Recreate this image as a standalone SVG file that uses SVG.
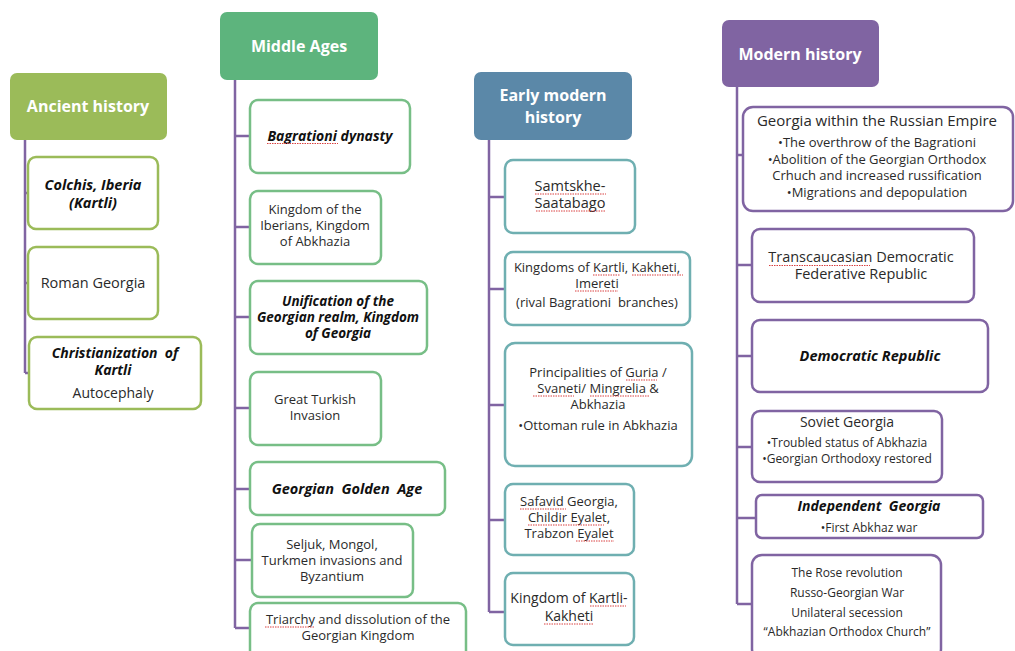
<svg xmlns="http://www.w3.org/2000/svg" width="1015" height="651" viewBox="0 0 1015 651">
<style>
.t{font-family:"Open Sans","Noto Sans","Liberation Sans",sans-serif;font-size:13px;fill:#2a2a2a;text-anchor:middle}
.s{font-size:12px}
.l{font-size:14px}
.xl{font-size:14.5px}
.bi{font-weight:bold;font-style:italic;fill:#111;font-size:14px}
.h{font-family:"Open Sans","Noto Sans","Liberation Sans",sans-serif;font-weight:bold;font-size:16px;fill:#fff;text-anchor:middle}
.g1{fill:#fff;stroke:#9BBB59;stroke-width:2.5}
.g2{fill:#fff;stroke:#77BE86;stroke-width:2.5}
.g3{fill:#fff;stroke:#6FAFB1;stroke-width:2.5}
.g4{fill:#fff;stroke:#8064A2;stroke-width:2.5}
.c{fill:none;stroke:#8064A2;stroke-width:2.5}
.u{fill:none;stroke:#d94040;stroke-width:1;stroke-dasharray:1.5 1}
</style>
<rect width="1015" height="651" fill="#fff"/>
<g id="connectors">
<path class="c" d="M25 140 V373 M25 193 H28 M25 283 H28 M25 373 H29"/>
<path class="c" d="M235 80 V628 M235 136 H250 M235 227 H250 M235 317 H250 M235 408 H250 M235 489 H250 M235 560 H252 M235 628 H250"/>
<path class="c" d="M489 140 V612 M489 197 H505 M489 289 H505 M489 405 H505 M489 520 H505 M489 612 H505"/>
<path class="c" d="M737 87 V604 M737 155 H743 M737 265 H752 M737 356 H752 M737 447 H752 M737 518 H756 M737 604 H752"/>
</g>
<g id="ancient">
<rect x="10" y="73" width="157" height="67" rx="7" fill="#9BBB59"/>
<text class="h" x="88" y="112">Ancient history</text>
</g>
<g id="colchis"><rect class="g1" x="28" y="157" width="130" height="72" rx="8"/>
<text class="t bi" x="93" y="190" style="font-size:14.5px">Colchis, Iberia</text><text class="t bi" x="93" y="208" style="font-size:14.5px">(Kartli)</text></g>
<g id="roman"><rect class="g1" x="28" y="247" width="130" height="72" rx="8"/>
<text class="t xl" x="93" y="288">Roman Georgia</text></g>
<g id="christianization"><rect class="g1" x="29" y="337" width="172" height="72" rx="8"/>
<text class="t bi" x="115" y="358" xml:space="preserve">Christianization  of</text><text class="t bi" x="113" y="375">Kartli</text><text class="t l" x="113" y="398">Autocephaly</text></g>

<g id="middle">
<rect x="220" y="12" width="158" height="68" rx="7" fill="#5DB47D"/>
<text class="h" x="299" y="52">Middle Ages</text>
</g>
<g id="bagrationi"><rect class="g2" x="250" y="100" width="160" height="73" rx="8"/>
<text class="t bi" x="330" y="141">Bagrationi dynasty</text>
<path class="u" d="M267 143.5 H338"/></g>
<g id="iberians"><rect class="g2" x="250" y="191" width="131" height="73" rx="8"/>
<text class="t" x="315" y="214">Kingdom of the</text><text class="t" x="315" y="230">Iberians, Kingdom</text><text class="t" x="315" y="246">of Abkhazia</text></g>
<g id="unification"><rect class="g2" x="250" y="281" width="177" height="73" rx="8"/>
<text class="t bi" x="338" y="306" style="font-size:13.5px">Unification of the</text><text class="t bi" x="338" y="322" style="font-size:13.5px">Georgian realm, Kingdom</text><text class="t bi" x="338" y="338" style="font-size:13.5px">of Georgia</text></g>
<g id="turkish"><rect class="g2" x="250" y="372" width="131" height="73" rx="8"/>
<text class="t" x="315" y="404">Great Turkish</text><text class="t" x="315" y="420">Invasion</text></g>
<g id="golden"><rect class="g2" x="250" y="462" width="195" height="53" rx="8"/>
<text class="t bi" x="347" y="494" style="font-size:14.5px" xml:space="preserve">Georgian  Golden  Age</text></g>
<g id="seljuk"><rect class="g2" x="252" y="524" width="161" height="73" rx="8"/>
<text class="t" x="332" y="549">Seljuk, Mongol,</text><text class="t" x="332" y="565">Turkmen invasions and</text><text class="t" x="332" y="581">Byzantium</text></g>
<g id="triarchy"><rect class="g2" x="250" y="603" width="216" height="60" rx="8"/>
<text class="t" x="358" y="624">Triarchy and dissolution of the</text><text class="t" x="358" y="640">Georgian Kingdom</text>
<path class="u" d="M265 627 H314"/></g>

<g id="earlymodern">
<rect x="474" y="72" width="158" height="68" rx="7" fill="#5B88A8"/>
<text class="h" x="553" y="101">Early modern</text><text class="h" x="553" y="123">history</text>
</g>
<g id="samtskhe"><rect class="g3" x="505" y="160" width="130" height="73" rx="8"/>
<text class="t xl" x="570" y="191">Samtskhe-</text><text class="t xl" x="570" y="208">Saatabago</text>
<path class="u" d="M535 194 H606 M536 211 H605"/></g>
<g id="kingdoms"><rect class="g3" x="505" y="252" width="185" height="73" rx="8"/>
<text class="t" x="597" y="272">Kingdoms of Kartli, Kakheti,</text><text class="t" x="597" y="288">Imereti</text><text class="t" x="597" y="307" xml:space="preserve">(rival Bagrationi  branches)</text>
<path class="u" d="M593 275 H620 M632 275 H683 M575 291 H618"/></g>
<g id="principalities"><rect class="g3" x="505" y="343" width="187" height="123" rx="10"/>
<text class="t" x="598" y="377">Principalities of Guria /</text><text class="t" x="598" y="393">Svaneti/ Mingrelia &amp;</text><text class="t" x="598" y="409">Abkhazia</text><text class="t" x="598" y="430">•Ottoman rule in Abkhazia</text>
<path class="u" d="M626 380 H657 M533 396 H574 M590 396 H650"/></g>
<g id="safavid"><rect class="g3" x="505" y="484" width="129" height="71" rx="8"/>
<text class="t" x="569" y="506">Safavid Georgia,</text><text class="t" x="569" y="522">Childir Eyalet,</text><text class="t" x="569" y="538">Trabzon Eyalet</text>
<path class="u" d="M520 509 H566 M528 525 H604 M576 541 H614"/></g>
<g id="kartlikakheti"><rect class="g3" x="505" y="573" width="129" height="72" rx="8"/>
<text class="t l" x="569" y="603">Kingdom of Kartli-</text><text class="t l" x="569" y="621">Kakheti</text>
<path class="u" d="M590 606 H626 M544 624 H594"/></g>

<g id="modern">
<rect x="722" y="20" width="157" height="67" rx="7" fill="#8064A2"/>
<text class="h" x="800" y="60">Modern history</text>
</g>
<g id="russian"><rect class="g4" x="743" y="107" width="270" height="104" rx="10"/>
<text class="t" x="877" y="126" style="font-size:15px">Georgia within the Russian Empire</text>
<text class="t" x="877" y="147">•The overthrow of the Bagrationi</text>
<text class="t" x="877" y="164">•Abolition of the Georgian Orthodox</text>
<text class="t" x="877" y="180">Crhuch and increased russification</text>
<text class="t" x="877" y="197">•Migrations and depopulation</text></g>
<g id="transcaucasian"><rect class="g4" x="752" y="229" width="222" height="73" rx="8"/>
<text class="t xl" x="861" y="262">Transcaucasian Democratic</text><text class="t xl" x="861" y="279">Federative Republic</text>
<path class="u" d="M769 265.5 H870"/></g>
<g id="democratic"><rect class="g4" x="752" y="320" width="236" height="72" rx="8"/>
<text class="t bi" x="870" y="361" style="font-size:14.5px">Democratic Republic</text></g>
<g id="soviet"><rect class="g4" x="752" y="411" width="190" height="71" rx="8"/>
<text class="t l" x="847" y="427">Soviet Georgia</text><text class="t s" x="847" y="447">•Troubled status of Abkhazia</text><text class="t s" x="847" y="463">•Georgian Orthodoxy restored</text></g>
<g id="independent"><rect class="g4" x="756" y="495" width="227" height="43" rx="6"/>
<text class="t bi" x="869" y="511" xml:space="preserve">Independent  Georgia</text><text class="t s" x="869" y="532">•First Abkhaz war</text></g>
<g id="rose"><rect class="g4" x="752" y="555" width="189" height="104" rx="10"/>
<text class="t s" x="847" y="577">The Rose revolution</text><text class="t s" x="847" y="597">Russo-Georgian War</text><text class="t s" x="847" y="617">Unilateral secession</text><text class="t s" x="847" y="636">“Abkhazian Orthodox Church”</text></g>
</svg>
